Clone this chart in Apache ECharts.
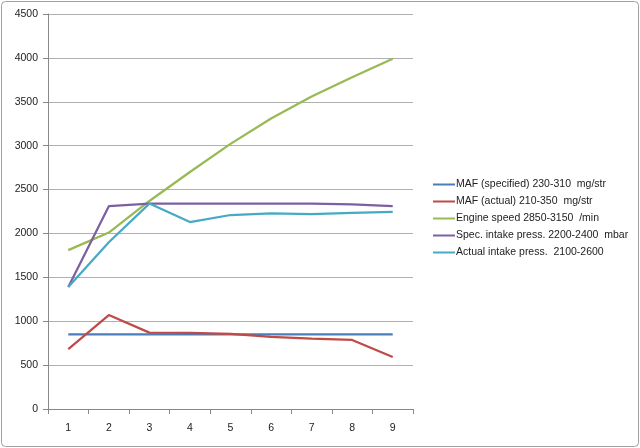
<!DOCTYPE html>
<html><head><meta charset="utf-8">
<script src="https://cdn.jsdelivr.net/npm/echarts@6/dist/echarts.min.js"></script>
<style>html,body{margin:0;padding:0;background:#fff}#c{width:640px;height:448px}</style>
</head><body><div id="c"></div>
<script>
var categories = ['1','2','3','4','5','6','7','8','9'];
var mafSpec = [850,850,850,850,850,850,850,850,850];
var mafActual = [683,1070,870,868,855,822,802,787,592];
var engineSpeed = [1810,2010,2370,2700,3020,3310,3560,3780,3990];
var specIntake = [1390,2310,2340,2340,2340,2340,2340,2330,2310];
var actualIntake = [1390,1900,2340,2130,2210,2230,2220,2235,2245];
var seriesNames = ['MAF (specified) 230-310  mg/str','MAF (actual) 210-350  mg/str','Engine speed 2850-3150  /min','Spec. intake press. 2200-2400  mbar','Actual intake press.  2100-2600'];
var colors = ['#4a7ebb','#be4b48','#98b954','#7d60a0','#46aac5'];
var dataSets = [mafSpec, mafActual, engineSpeed, specIntake, actualIntake];

var chart = echarts.init(document.getElementById('c'), null, {renderer:'canvas'});
var font = 'Liberation Sans, Arial, sans-serif';
chart.setOption({
  animation:false,
  color: colors,
  graphic:[{type:'rect',shape:{x:1.5,y:1.5,width:637,height:445,r:4},style:{fill:'none',stroke:'#a0a0a0',lineWidth:1}}],
  grid:{left:48,right:227,top:14,bottom:39,containLabel:false},
  legend:{orient:'vertical',left:428,top:174,itemGap:6,itemWidth:22,itemHeight:11,
    icon:'path://M0,4 L22,4 L22,6 L0,6 Z',
    textStyle:{fontFamily:font,fontSize:10.5,color:'#222',padding:[0,0,0,-4]},
    data:seriesNames},
  xAxis:{type:'category',data:categories,boundaryGap:true,
    axisLine:{lineStyle:{color:'#888'}},
    axisTick:{show:true,alignWithLabel:false,length:5,lineStyle:{color:'#888'}},
    axisLabel:{fontFamily:font,fontSize:10.5,color:'#222',margin:14},
    splitLine:{show:false}},
  yAxis:{type:'value',min:0,max:4500,interval:500,
    axisLine:{show:true,lineStyle:{color:'#888'}},
    axisTick:{show:true,inside:false,length:5,lineStyle:{color:'#888'}},
    axisLabel:{fontFamily:font,fontSize:10.5,color:'#222',margin:10,formatter:function(v){return String(v);}},
    splitLine:{lineStyle:{color:'#b0b0b0',width:1}}},
  series: dataSets.map(function(d,i){return {name:seriesNames[i],type:'line',data:d,symbol:'none',
    lineStyle:{width:2.25,color:colors[i]},itemStyle:{color:colors[i]}};})
});
</script></body></html>
